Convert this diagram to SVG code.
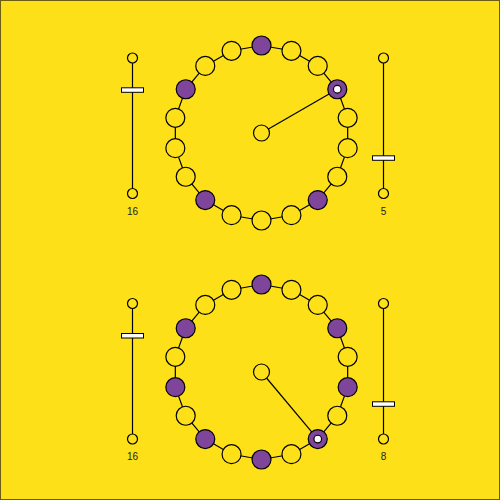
<svg xmlns="http://www.w3.org/2000/svg" width="500" height="500" viewBox="0 0 500 500">
<style>
.bg{fill:#FDE017;stroke:#6b5e12;stroke-width:1}
.e{fill:none;stroke:#000;stroke-width:1.2}
.n{fill:#FDE017;stroke:#000;stroke-width:1.2}
.h{fill:#7E459B;stroke:#000;stroke-width:1.2}
.d{fill:#fff;stroke:#000;stroke-width:1.2}
.sl{stroke:#000;stroke-width:1.2}
.k{fill:#fff;stroke:#000;stroke-width:1}
.t{font-family:"Liberation Sans",Arial,sans-serif;font-size:10px;fill:#222;text-anchor:middle}
</style>
<rect class="bg" x="0.5" y="0.5" width="499" height="499"/>
<g id="connectors">
<polygon class="e" points="261.5,45.5 291.43,50.78 317.74,65.97 337.28,89.25 347.67,117.81 347.67,148.19 337.28,176.75 317.74,200.03 291.43,215.22 261.5,220.5 231.57,215.22 205.26,200.03 185.72,176.75 175.33,148.19 175.33,117.81 185.72,89.25 205.26,65.97 231.57,50.78"/>
<line class="e" x1="261.5" y1="133" x2="337.28" y2="89.25"/>
<polygon class="e" points="261.5,284.5 291.43,289.78 317.74,304.97 337.28,328.25 347.67,356.81 347.67,387.19 337.28,415.75 317.74,439.03 291.43,454.22 261.5,459.5 231.57,454.22 205.26,439.03 185.72,415.75 175.33,387.19 175.33,356.81 185.72,328.25 205.26,304.97 231.57,289.78"/>
<line class="e" x1="261.5" y1="372" x2="317.74" y2="439.03"/>
</g>
<g id="top-ring">
<circle class="h" cx="261.5" cy="45.5" r="9.5"/>
<circle class="n" cx="291.43" cy="50.78" r="9.5"/>
<circle class="n" cx="317.74" cy="65.97" r="9.5"/>
<g id="top-current"><circle class="h" cx="337.28" cy="89.25" r="9.5"/><circle class="d" cx="337.28" cy="89.25" r="3.8"/></g>
<circle class="n" cx="347.67" cy="117.81" r="9.5"/>
<circle class="n" cx="347.67" cy="148.19" r="9.5"/>
<circle class="n" cx="337.28" cy="176.75" r="9.5"/>
<circle class="h" cx="317.74" cy="200.03" r="9.5"/>
<circle class="n" cx="291.43" cy="215.22" r="9.5"/>
<circle class="n" cx="261.5" cy="220.5" r="9.5"/>
<circle class="n" cx="231.57" cy="215.22" r="9.5"/>
<circle class="h" cx="205.26" cy="200.03" r="9.5"/>
<circle class="n" cx="185.72" cy="176.75" r="9.5"/>
<circle class="n" cx="175.33" cy="148.19" r="9.5"/>
<circle class="n" cx="175.33" cy="117.81" r="9.5"/>
<circle class="h" cx="185.72" cy="89.25" r="9.5"/>
<circle class="n" cx="205.26" cy="65.97" r="9.5"/>
<circle class="n" cx="231.57" cy="50.78" r="9.5"/>
</g>
<g id="top-center"><circle class="n" cx="261.5" cy="133" r="8"/></g>
<g id="top-left-slider">
<line class="sl" x1="132.5" y1="63" x2="132.5" y2="189"/>
<circle class="n" cx="132.5" cy="58" r="5"/>
<circle class="n" cx="132.5" cy="193.5" r="5"/>
<rect class="k" x="121.5" y="87.8" width="22" height="4.5"/>
<text class="t" x="132.5" y="214.5">16</text>
</g>
<g id="top-right-slider">
<line class="sl" x1="383.5" y1="63" x2="383.5" y2="189"/>
<circle class="n" cx="383.5" cy="58" r="5"/>
<circle class="n" cx="383.5" cy="193.5" r="5"/>
<rect class="k" x="372.5" y="155.8" width="22" height="4.5"/>
<text class="t" x="383.5" y="214.5">5</text>
</g>
<g id="bottom-ring">
<circle class="h" cx="261.5" cy="284.5" r="9.5"/>
<circle class="n" cx="291.43" cy="289.78" r="9.5"/>
<circle class="n" cx="317.74" cy="304.97" r="9.5"/>
<circle class="h" cx="337.28" cy="328.25" r="9.5"/>
<circle class="n" cx="347.67" cy="356.81" r="9.5"/>
<circle class="h" cx="347.67" cy="387.19" r="9.5"/>
<circle class="n" cx="337.28" cy="415.75" r="9.5"/>
<g id="bottom-current"><circle class="h" cx="317.74" cy="439.03" r="9.5"/><circle class="d" cx="317.74" cy="439.03" r="3.8"/></g>
<circle class="n" cx="291.43" cy="454.22" r="9.5"/>
<circle class="h" cx="261.5" cy="459.5" r="9.5"/>
<circle class="n" cx="231.57" cy="454.22" r="9.5"/>
<circle class="h" cx="205.26" cy="439.03" r="9.5"/>
<circle class="n" cx="185.72" cy="415.75" r="9.5"/>
<circle class="h" cx="175.33" cy="387.19" r="9.5"/>
<circle class="n" cx="175.33" cy="356.81" r="9.5"/>
<circle class="h" cx="185.72" cy="328.25" r="9.5"/>
<circle class="n" cx="205.26" cy="304.97" r="9.5"/>
<circle class="n" cx="231.57" cy="289.78" r="9.5"/>
</g>
<g id="bottom-center"><circle class="n" cx="261.5" cy="372" r="8"/></g>
<g id="bottom-left-slider">
<line class="sl" x1="132.5" y1="308" x2="132.5" y2="434"/>
<circle class="n" cx="132.5" cy="303.5" r="5"/>
<circle class="n" cx="132.5" cy="439" r="5"/>
<rect class="k" x="121.5" y="333.5" width="22" height="4.5"/>
<text class="t" x="132.5" y="459.5">16</text>
</g>
<g id="bottom-right-slider">
<line class="sl" x1="383.5" y1="308" x2="383.5" y2="434"/>
<circle class="n" cx="383.5" cy="303.5" r="5"/>
<circle class="n" cx="383.5" cy="439" r="5"/>
<rect class="k" x="372.5" y="401.8" width="22" height="4.5"/>
<text class="t" x="383.5" y="459.5">8</text>
</g>
</svg>
